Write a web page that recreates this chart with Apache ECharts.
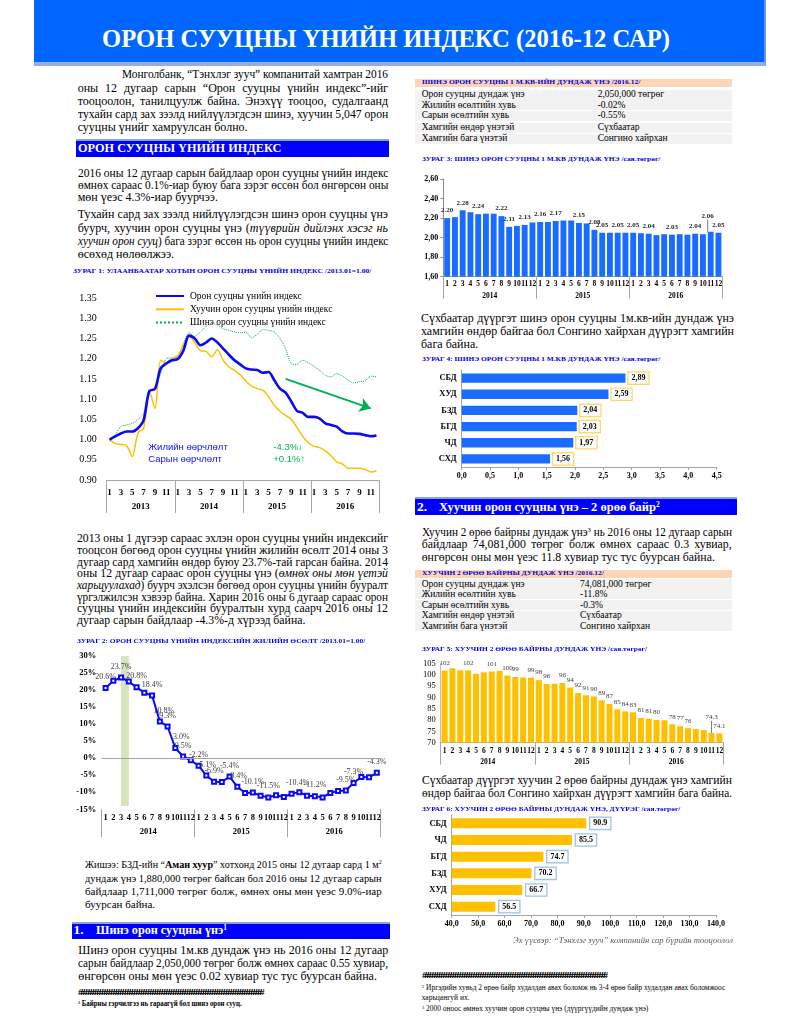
<!DOCTYPE html>
<html><head><meta charset="utf-8">
<script src="https://cdn.jsdelivr.net/npm/echarts@6/dist/echarts.min.js"></script>
<style>
html,body{margin:0;padding:0;background:#fff;}
#page{position:relative;width:800px;height:1035px;overflow:hidden;font-family:"Liberation Serif","Times New Roman",serif;color:#000;}
.ln{position:absolute;white-space:nowrap;transform-origin:0 50%;}
.box{position:absolute;}
.ch{position:absolute;}
sup{font-size:0.6em;line-height:0;vertical-align:0.55em;}
</style></head>
<body><div id="page">
<div class="box" style="left:34px;top:0;width:730px;height:62px;background:#0066FF;border-bottom:4px solid #95AEDC;border-right:2px solid #6F95D8;"></div>
<div class="box" style="left:76px;top:139px;width:313px;height:18px;background:#0000FF;border-top:2px solid #8EA4D2;box-sizing:border-box;"></div>
<div class="box" style="left:72px;top:922px;width:318px;height:16.5px;background:#0000FF;border-top:2px solid #8EA4D2;box-sizing:border-box;"></div>
<div class="box" style="left:415px;top:497px;width:322px;height:18px;background:#0000FF;border-top:2px solid #8EA4D2;box-sizing:border-box;"></div>
<div class="ch" id="c1" style="left:60px;top:280px;width:340px;height:240px;"></div>
<div class="ch" id="c2" style="left:60px;top:645px;width:340px;height:200px;"></div>
<div class="ch" id="c3" style="left:410px;top:170px;width:330px;height:135px;"></div>
<div class="ch" id="c4" style="left:410px;top:365px;width:330px;height:120px;"></div>
<div class="ch" id="c5" style="left:410px;top:655px;width:330px;height:115px;"></div>
<div class="ch" id="c6" style="left:410px;top:812px;width:330px;height:125px;"></div>
</div>
<script>
// ---------- DATA ----------
const monthNums = ['1','2','3','4','5','6','7','8','9','10','11','12'];
const years1 = ['2013','2014','2015','2016'];
const years2 = ['2014','2015','2016'];

// Chart 1: index 2013.01 = 1.00
const c1Index = [1.000,1.008,1.015,1.020,1.020,1.028,1.048,1.120,1.125,1.176,1.188,1.196,
 1.199,1.220,1.257,1.250,1.233,1.240,1.250,1.240,1.225,1.210,1.196,1.186,
 1.176,1.173,1.172,1.165,1.167,1.147,1.126,1.116,1.094,1.071,1.066,1.056,
 1.056,1.052,1.040,1.036,1.032,1.020,1.015,1.015,1.014,1.011,1.008,1.010];
const c1Old = [1.000,0.990,0.988,0.985,0.958,1.016,1.028,1.120,1.077,1.196,1.190,1.200,
 1.208,1.233,1.255,1.240,1.220,1.218,1.205,1.222,1.196,1.180,1.171,1.160,
 1.145,1.132,1.126,1.122,1.106,1.085,1.070,1.060,1.050,1.030,1.008,0.992,
 0.983,0.980,0.972,0.960,0.945,0.940,0.929,0.929,0.929,0.926,0.920,0.923];
const c1New = [1.000,1.012,1.032,1.036,1.040,1.050,1.065,1.118,1.130,1.163,1.200,1.202,
 1.204,1.237,1.264,1.255,1.266,1.280,1.287,1.283,1.274,1.270,1.266,1.264,
 1.266,1.252,1.260,1.272,1.270,1.266,1.250,1.225,1.188,1.186,1.196,1.190,
 1.181,1.171,1.159,1.155,1.163,1.157,1.147,1.140,1.143,1.145,1.157,1.155];
const c1Names = ['Орон сууцны үнийн индекс','Хуучин орон сууцны үнийн индекс','Шинэ орон сууцны үнийн индекс'];

// Chart 2: annual growth %
const c2Vals = [20.6,22.7,23.7,22.5,20.8,19.2,18.4,10.8,9.3,3.0,0.5,-0.6,
 -2.2,-5.1,-6.9,-7.0,-5.4,-8.4,-10.2,-10.1,-11.0,-11.5,-10.9,-11.4,
 -10.4,-10.0,-11.0,-11.2,-11.5,-10.2,-9.6,-9.5,-7.3,-5.5,-5.6,-4.3];
const c2LabelIdx = [0,2,4,6,7,8,9,10,12,13,14,16,17,19,21,24,27,31,32,35];

// Chart 3: new housing price per m2, mln MNT
const c3Vals = [2.20,2.21,2.28,2.26,2.24,2.245,2.245,2.22,2.11,2.12,2.13,2.155,
 2.16,2.16,2.17,2.175,2.175,2.15,2.145,2.08,2.05,2.05,2.05,2.05,
 2.05,2.045,2.04,2.025,2.035,2.03,2.035,2.03,2.04,2.035,2.06,2.05];
const c3LabelIdx = [0,2,4,7,8,10,12,14,17,19,20,22,24,26,29,32,34,35];

// Chart 4: by district
const c4Cats = ['СБД','ХУД','БЗД','БГД','ЧД','СХД'];
const c4Vals = [2.89,2.59,2.04,2.03,1.97,1.56];

// Chart 5: old 2-room apartment, mln MNT
const c5Vals = [101.8,102.8,101.9,101.9,100.4,101.0,101.4,101.6,99.6,99.0,98.8,98.7,
 97.6,95.9,96.0,96.3,94.3,91.9,90.9,90.4,88.7,87.1,84.7,83.8,
 83.4,80.9,80.6,80.0,79.9,78.1,77.3,76.4,76.0,75.6,74.3,74.1];
const c5Labels = ['102',null,null,'102',null,null,'101',null,'100','99',null,'99',
 '98','96',null,'96','94','92','91','90','89','87','85','84',
 '83','81','81','80',null,'78','77','76',null,null,'74.3','74.1'];

// Chart 6: by district
const c6Cats = ['СБД','ЧД','БГД','БЗД','ХУД','СХД'];
const c6Vals = [90.9,85.5,74.7,70.2,66.7,56.5];

// Tables
const t1Rows = [['Орон сууцны дундаж үнэ','2,050,000 төгрөг'],['Жилийн өсөлтийн хувь','-0.02%'],['Сарын өсөлтийн хувь','-0.55%'],['Хамгийн өндөр үнэтэй','Сүхбаатар'],['Хамгийн бага үнэтэй','Сонгино хайрхан']];
const t2Rows = [['Орон сууцны дундаж үнэ','74,081,000 төгрөг'],['Жилийн өсөлтийн хувь','-11.8%'],['Сарын өсөлтийн хувь','-0.3%'],['Хамгийн өндөр үнэтэй','Сүхбаатар'],['Хамгийн бага үнэтэй','Сонгино хайрхан']];

// ---------- TEXT HELPERS ----------
const page = document.getElementById('page');
function addLine(o){
  const d = document.createElement('div');
  d.className = 'ln';
  const lh = o.lh || o.fs*1.1;
  d.style.left = o.x+'px';
  d.style.top = (o.y - lh/2)+'px';
  d.style.height = lh+'px';
  d.style.lineHeight = lh+'px';
  d.style.fontSize = o.fs+'px';
  if(o.bold) d.style.fontWeight='bold';
  if(o.italic) d.style.fontStyle='italic';
  if(o.color) d.style.color=o.color;
  if(o.ls) d.style.letterSpacing=o.ls+'px';
  d.innerHTML = o.html;
  page.appendChild(d);
  const nw = d.getBoundingClientRect().width;
  const mode = o.mode||'left';
  if(mode==='justify'){
    if(nw > o.w){ d.style.transform='scaleX('+(o.w/nw)+')'; }
    else { const n=(d.textContent.match(/ /g)||[]).length; if(n) d.style.wordSpacing=((o.w-nw)/n)+'px'; }
  } else if(mode==='fit'){
    d.style.transform='scaleX('+(o.w/nw)+')';
  } else {
    if(o.w && nw > o.w) d.style.transform='scaleX('+(o.w/nw)+')';
  }
  return d;
}
function para(x,y0,w,lh,fs,lines,opt){
  opt = opt||{};
  lines.forEach((h,i)=>{
    const ind = (i===0 && opt.indent) ? opt.indent : 0;
    addLine({x:x+ind, y:y0+i*lh, w:w-ind, lh:lh, fs:fs, html:h, mode:(i===lines.length-1)?'left':'justify'});
  });
}

// Header title
addLine({x:101.7,y:39,w:568,fs:26,bold:true,color:'#fff',html:'ОРОН СУУЦНЫ ҮНИЙН ИНДЕКС (2016-12 САР)',mode:'fit'});

// Left column
para(77.7,75,310.3,13.2,12,[
 'Монголбанк, “Тэнхлэг зууч” компанитай хамтран 2016',
 'оны 12 дугаар сарын “Орон сууцны үнийн индекс”-ийг',
 'тооцоолон, танилцуулж байна. Энэхүү тооцоо, судалгаанд',
 'тухайн сард зах зээлд нийлүүлэгдсэн шинэ, хуучин 5,047 орон',
 'сууцны үнийг хамруулсан болно.'],{indent:44.3});
addLine({x:78.3,y:148.5,w:203.4,fs:13.5,bold:true,color:'#fff',html:'ОРОН СУУЦНЫ ҮНИЙН ИНДЕКС',mode:'fit'});
para(77.7,173,310.3,12.2,12,[
 '2016 оны 12 дугаар сарын байдлаар орон сууцны үнийн индекс',
 'өмнөх сараас 0.1%-иар буюу бага зэрэг өссөн бол өнгөрсөн оны',
 'мөн үеэс 4.3%-иар буурчээ.']);
para(77.7,215,310.3,13.3,12,[
 'Тухайн сард зах зээлд нийлүүлэгдсэн шинэ орон сууцны үнэ',
 'буурч, хуучин орон сууцны үнэ (<i>түүврийн дийлэнх хэсэг нь</i>',
 '<i>хуучин орон сууц</i>) бага зэрэг өссөн нь орон сууцны үнийн индекс',
 'өсөхөд нөлөөлжээ.']);
const TCOL = '#0000DD';
addLine({x:73.3,y:272,w:298.4,fs:7,bold:true,color:TCOL,html:'ЗУРАГ 1: УЛААНБААТАР ХОТЫН ОРОН СУУЦНЫ ҮНИЙН ИНДЕКС /2013.01=1.00/',mode:'fit'});
para(77,539,311,11.7,11.8,[
 '2013 оны 1 дүгээр сараас эхлэн орон сууцны үнийн индексийг',
 'тооцсон бөгөөд орон сууцны үнийн жилийн өсөлт 2014 оны 3',
 'дугаар сард хамгийн өндөр буюу 23.7%-тай гарсан байна. 2014',
 'оны 12 дугаар сараас орон сууцны үнэ (<i>өмнөх оны мөн үетэй</i>',
 '<i>харьцуулахад</i>) буурч эхэлсэн бөгөөд орон сууцны үнийн бууралт',
 'үргэлжилсэн хэвээр байна. Харин 2016 оны 6 дугаар сараас орон',
 'сууцны үнийн индексийн бууралтын хурд саарч 2016 оны 12',
 'дугаар сарын байдлаар -4.3%-д хүрээд байна.']);
addLine({x:76.7,y:641.7,w:288.3,fs:7,bold:true,color:TCOL,html:'ЗУРАГ 2: ОРОН СУУЦНЫ ҮНИЙН ИНДЕКСИЙН ЖИЛИЙН ӨСӨЛТ /2013.01=1.00/',mode:'fit'});
para(85,865,296.7,13.3,11,[
 'Жишээ: БЗД-ийн “<b>Аман хуур</b>” хотхонд 2015 оны 12 дугаар сард 1 м<sup>2</sup>',
 'дундаж үнэ 1,880,000 төгрөг байсан бол 2016 оны 12 дугаар сарын',
 'байдлаар 1,711,000 төгрөг болж, өмнөх оны мөн үеэс 9.0%-иар',
 'буурсан байна.']);
addLine({x:73.5,y:930.5,fs:13.5,bold:true,color:'#fff',html:'1.'});
addLine({x:95.5,y:930.5,w:131,fs:13.5,bold:true,color:'#fff',html:'Шинэ орон сууцны үнэ<sup>1</sup>',mode:'fit'});
para(78.3,950,310,13,12,[
 'Шинэ орон сууцны 1м.кв дундаж үнэ нь 2016 оны 12 дугаар',
 'сарын байдлаар 2,050,000 төгрөг болж өмнөх сараас 0.55 хувиар,',
 'өнгөрсөн оны мөн үеэс 0.02 хувиар тус тус буурсан байна.']);
addLine({x:78,y:993.3,w:183.7,fs:8,bold:true,ls:-2.2,html:'#'.repeat(80),mode:'fit'});
addLine({x:78,y:1004,w:163.7,fs:7.5,bold:true,html:'<sup>1</sup> Байрны гэрчилгээ нь гараагүй бол шинэ орон сууц.',mode:'fit'});

// Right column
function table(y0Head, rowTops, col2, head, headW, rows){
  const h = document.createElement('div'); h.className='box';
  h.style.cssText='left:415px;top:'+(y0Head-4)+'px;width:317px;height:8px;background:#FBD5B5;';
  page.appendChild(h);
  addLine({x:421.7,y:y0Head,w:headW,fs:7,bold:true,color:TCOL,html:head,mode:'fit'});
  rows.forEach((r,i)=>{
    const b=document.createElement('div'); b.className='box';
    b.style.cssText='left:415px;top:'+rowTops[i]+'px;width:317px;height:10px;background:#F2F2F2;';
    page.appendChild(b);
    addLine({x:421.7,y:rowTops[i]+5,fs:9.5,html:r[0]});
    addLine({x:col2,y:rowTops[i]+5,fs:9.5,html:r[1]});
  });
}
table(83.3,[89.5,100,110.7,122.7,133.7],597.7,'ШИНЭ ОРОН СУУЦНЫ 1 М.КВ-ИЙН ДУНДАЖ ҮНЭ /2016.12/',218.3,t1Rows);
addLine({x:421.7,y:160,w:238.3,fs:7,bold:true,color:TCOL,html:'ЗУРАГ 3: ШИНЭ ОРОН СУУЦНЫ 1 М.КВ ДУНДАЖ ҮНЭ /сая.төгрөг/',mode:'fit'});
para(421,318,313,13,12,[
 'Сүхбаатар дүүргэт шинэ орон сууцны 1м.кв-ийн дундаж үнэ',
 'хамгийн өндөр байгаа бол Сонгино хайрхан дүүрэгт хамгийн',
 'бага байна.']);
addLine({x:421.7,y:360,w:238.3,fs:7,bold:true,color:TCOL,html:'ЗУРАГ 4: ШИНЭ ОРОН СУУЦНЫ 1 М.КВ ДУНДАЖ ҮНЭ /сая.төгрөг/',mode:'fit'});
addLine({x:417,y:507,fs:13.5,bold:true,color:'#fff',html:'2.'});
addLine({x:439.3,y:507,w:220.7,fs:13.5,bold:true,color:'#fff',html:'Хуучин орон сууцны үнэ – 2 өрөө байр<sup>2</sup>',mode:'fit'});
para(421.7,532,310,12.5,11.8,[
 'Хуучин 2 өрөө байрны дундаж үнэ<sup>3</sup> нь 2016 оны 12 дугаар сарын',
 'байдлаар 74,081,000 төгрөг болж өмнөх сараас 0.3 хувиар,',
 'өнгөрсөн оны мөн үеэс 11.8 хувиар тус тус буурсан байна.']);
table(573.7,[579,589.3,600,610.7,621],580,'ХУУЧИН 2 ӨРӨӨ БАЙРНЫ ДУНДАЖ ҮНЭ /2016.12/',181.7,t2Rows);
addLine({x:421.7,y:650,w:225,fs:7,bold:true,color:TCOL,html:'ЗУРАГ 5: ХУУЧИН 2 ӨРӨӨ БАЙРНЫ ДУНДАЖ ҮНЭ /сая.төгрөг/',mode:'fit'});
para(421.7,780,310,13,12.5,[
 'Сүхбаатар дүүргэт хуучин 2 өрөө байрны дундаж үнэ хамгийн',
 'өндөр байгаа бол Сонгино хайрхан дүүрэгт хамгийн бага байна.']);
addLine({x:421.7,y:810,w:258.3,fs:7,bold:true,color:TCOL,html:'ЗУРАГ 6: ХУУЧИН 2 ӨРӨӨ БАЙРНЫ ДУНДАЖ ҮНЭ, ДҮҮРЭГ /сая.төгрөг/',mode:'fit'});
addLine({x:513,y:941,w:220,fs:9,italic:true,color:'#595959',html:'Эх үүсвэр: “Тэнхлэг зууч” компанийн сар бүрийн тооцоолол',mode:'fit'});
addLine({x:421.7,y:976.7,w:183.3,fs:8,bold:true,ls:-2.2,html:'#'.repeat(80),mode:'fit'});
addLine({x:421.7,y:988,w:303.3,fs:7.5,html:'<sup>2</sup> Иргэдийн хувьд 2 өрөө байр худалдан авах боломж нь 3-4 өрөө байр худалдан авах боломжоос',mode:'fit'});
addLine({x:421.7,y:998.5,fs:7.5,html:'харьцангуй их.'});
addLine({x:421.7,y:1008.7,w:226.3,fs:7.5,html:'<sup>3</sup> 2000 оноос өмнөх хуучин орон сууцны үнэ (дүүргүүдийн дундаж үнэ)',mode:'fit'});

// ---------- CHARTS ----------
const SERIF = '"Liberation Serif", "Times New Roman", serif';
const SANS = '"Liberation Sans", Arial, sans-serif';
const monthOf = v => v.split('-')[1];
const cats = ys => ys.flatMap(y => monthNums.map(m => y+'-'+m));
const GRID = {containLabel:false, outerBoundsMode:'none'};
const txt = (fs, bold) => ({fontFamily:SERIF, fontSize:fs, fontWeight:bold?'bold':'normal', color:'#000'});
function monthAxis(data, o){
  return {type:'category', data:data, position:'bottom', boundaryGap:true,
    axisLine:{show:o.line!==false, lineStyle:{color:'#A6A6A6', width:1}}, axisTick:{show:false}, splitLine:{show:false},
    axisLabel:Object.assign({interval:o.interval||0, formatter:monthOf, margin:o.margin, hideOverlap:false}, txt(o.fs, true))};
}
function yearAxis(data, o){
  return {type:'category', data:data, position:'bottom', boundaryGap:true,
    axisLine:{show:false}, splitLine:{show:false},
    axisTick:{show:true, interval:0, length:o.len, lineStyle:{color:'#A6A6A6', width:1}},
    axisLabel:Object.assign({interval:0, margin:o.margin, hideOverlap:false}, txt(o.fs, true))};
}

// Chart 1
const ch1 = echarts.init(document.getElementById('c1'));
ch1.setOption({
  animation:false,
  grid:Object.assign({left:46.7, top:18, width:272.6, height:182}, GRID),
  legend:{left:90, top:6, orient:'vertical', itemWidth:28, itemHeight:8, itemGap:3.3, data:c1Names,
    itemStyle:{color:'rgba(0,0,0,0)', borderColor:'rgba(0,0,0,0)', borderWidth:0, opacity:0},
    textStyle:Object.assign(txt(9.5,false),{padding:[0,0,0,1]}), selectedMode:false},
  xAxis:[monthAxis(cats(years1),{interval:1, margin:8, fs:9}), yearAxis(years1,{len:33, margin:22, fs:9})],
  yAxis:{type:'value', min:0.9, max:1.35, interval:0.05, splitLine:{show:false}, axisLine:{show:false}, axisTick:{show:false},
    axisLabel:Object.assign({formatter:v=>v.toFixed(2), margin:10}, txt(10,false))},
  graphic:[
    {type:'text', left:88.3, top:162.5, style:{text:'Жилийн өөрчлөлт', fill:'#1010F0', fontFamily:SANS, fontSize:9.5}},
    {type:'text', left:88.3, top:174, style:{text:'Сарын өөрчлөлт', fill:'#1010F0', fontFamily:SANS, fontSize:9.5}},
    {type:'text', left:213.3, top:162.5, style:{text:'-4.3%↓', fill:'#00B050', fontFamily:SANS, fontSize:9.5}},
    {type:'text', left:213.3, top:174, style:{text:'+0.1%↑', fill:'#00B050', fontFamily:SANS, fontSize:9.5}}
  ],
  series:[
    {name:c1Names[0], type:'line', data:c1Index, symbol:'none', smooth:0.3, z:4,
      lineStyle:{color:'#0A0AF5', width:2.6}, itemStyle:{color:'#0A0AF5'}},
    {name:c1Names[1], type:'line', data:c1Old, symbol:'none', smooth:0.3, z:3,
      lineStyle:{color:'#FFC000', width:1.5}, itemStyle:{color:'#FFC000'}},
    {name:c1Names[2], type:'line', data:c1New, symbol:'none', smooth:0.3, z:2,
      lineStyle:{color:'#00B050', width:1, type:'dotted'}, itemStyle:{color:'#00B050'},
      markLine:{silent:true, symbol:['none','arrow'], symbolSize:11, label:{show:false},
        itemStyle:{color:'#00B050'},
        lineStyle:{color:'#00B050', width:2, type:'solid'},
        data:[[{coord:[31,1.150]},{coord:[46,1.077]}]]}}
  ]
});

// Chart 2
const c2Shift = {7:[4,0], 9:[6,0], 24:[6,0]};
const ch2 = echarts.init(document.getElementById('c2'));
ch2.setOption({
  animation:false,
  grid:Object.assign({left:41.7, top:11, width:279, height:153.3}, GRID),
  xAxis:[monthAxis(cats(years2),{line:false, margin:4, fs:8.5}), yearAxis(years2,{len:28, margin:18, fs:8.5})],
  yAxis:{type:'value', min:-15, max:30, interval:5, splitLine:{show:false}, axisLine:{show:false}, axisTick:{show:false},
    axisLabel:Object.assign({formatter:'{value}%', margin:5.5}, txt(8.5,true))},
  series:[{type:'line', symbol:'emptyRect', symbolSize:4, z:3,
    data:c2Vals.map((v,i)=>({value:v, label:{show:c2LabelIdx.includes(i), offset:c2Shift[i]||[0,0]}})),
    lineStyle:{color:'#0A0AF5', width:2}, itemStyle:{color:'#0A0AF5', borderWidth:1},
    label:Object.assign({show:false, position:'top', distance:4, formatter:p=>p.value.toFixed(1)+'%'}, txt(8,false), {color:'#404040'}),
    markLine:{silent:true, symbol:'none', label:{show:false}, lineStyle:{color:'#A6A6A6', width:1, type:'solid'}, data:[{yAxis:0}]},
    markArea:{silent:true, itemStyle:{color:'#D7E4BD'}, data:[[{xAxis:2, yAxis:30},{xAxis:3, yAxis:-14}]]}
  }]
});

// Chart 3
const ch3 = echarts.init(document.getElementById('c3'));
ch3.setOption({
  animation:false,
  grid:Object.assign({left:33.3, top:9, width:279, height:97.7}, GRID),
  xAxis:[monthAxis(cats(years2),{margin:3, fs:7.5}), yearAxis(years2,{len:22, margin:15, fs:7.5})],
  yAxis:{type:'value', min:1.6, max:2.6, interval:0.2, splitLine:{show:false},
    axisLine:{show:true, lineStyle:{color:'#8C8C8C'}}, axisTick:{show:true, length:3, lineStyle:{color:'#8C8C8C'}},
    axisLabel:Object.assign({formatter:v=>v.toFixed(2).replace('.',','), margin:5}, txt(8,true))},
  series:[{type:'bar', barCategoryGap:'24%',
    data:c3Vals.map((v,i)=>({value:v, label:{show:c3LabelIdx.includes(i)}, labelLine:{show:i===34, lineStyle:{color:'#595959', width:0.8}}})),
    itemStyle:{color:'#1A6BFF'},
    label:Object.assign({show:false, position:'top', distance:4, formatter:p=>p.value.toFixed(2)}, txt(7,true), {color:'#262626'}),
    labelLayout:p=>p.dataIndex===34?{dy:-8, dx:-3}:{}
  }]
});

// Chart 4
const ch4 = echarts.init(document.getElementById('c4'));
ch4.setOption({
  animation:false,
  grid:Object.assign({left:51.7, top:5, width:255, height:97}, GRID),
  xAxis:{type:'value', min:0, max:4.5, interval:0.5, splitLine:{show:false},
    axisLine:{show:true, lineStyle:{color:'#A6A6A6'}}, axisTick:{show:true, length:3, lineStyle:{color:'#A6A6A6'}},
    axisLabel:Object.assign({formatter:v=>v.toFixed(1).replace('.',','), margin:5}, txt(8,true))},
  yAxis:{type:'category', inverse:true, data:c4Cats, axisLine:{show:true, lineStyle:{color:'#A6A6A6'}}, axisTick:{show:false},
    axisLabel:Object.assign({margin:5}, txt(8.5,true))},
  series:[{type:'bar', data:c4Vals, barWidth:9.3, itemStyle:{color:'#1A6BFF'},
    label:Object.assign({show:true, position:'right', distance:3, formatter:p=>p.value.toFixed(2).replace('.',','),
      backgroundColor:'#fff', borderColor:'#FFD966', borderWidth:1.3, padding:[2,3,1,3]}, txt(8,true))}]
});

// Chart 5
const ch5 = echarts.init(document.getElementById('c5'));
ch5.setOption({
  animation:false,
  grid:Object.assign({left:30.7, top:8.3, width:282.6, height:79.4}, GRID),
  xAxis:[monthAxis(cats(years2),{margin:4, fs:7.5}), yearAxis(years2,{len:22, margin:15, fs:7.5})],
  yAxis:{type:'value', min:70, max:105, interval:5, splitLine:{show:false},
    axisLine:{show:true, lineStyle:{color:'#BFBFBF'}}, axisTick:{show:false},
    axisLabel:Object.assign({margin:5}, txt(8.5,false))},
  series:[{type:'bar', barCategoryGap:'23%',
    data:c5Vals.map((v,i)=>({value:v, label:{show:c5Labels[i]!==null}, labelLine:{show:i===34, lineStyle:{color:'#595959', width:0.8}}})),
    itemStyle:{color:'#FFC000'},
    label:Object.assign({show:false, position:'top', distance:4, formatter:p=>c5Labels[p.dataIndex]||''}, txt(7,false), {color:'#404040'}),
    labelLayout:p=>p.dataIndex===34?{dy:-8}:{}
  }]
});

// Chart 6
const ch6 = echarts.init(document.getElementById('c6'));
ch6.setOption({
  animation:false,
  grid:Object.assign({left:41.7, top:3, width:264.3, height:100}, GRID),
  xAxis:{type:'value', min:40, max:140, interval:10, splitLine:{show:false},
    axisLine:{show:true, lineStyle:{color:'#A6A6A6'}}, axisTick:{show:true, length:3, lineStyle:{color:'#A6A6A6'}},
    axisLabel:Object.assign({formatter:v=>v.toFixed(1).replace('.',','), margin:5}, txt(8,true))},
  yAxis:{type:'category', inverse:true, data:c6Cats, axisLine:{show:true, lineStyle:{color:'#A6A6A6'}}, axisTick:{show:false},
    axisLabel:Object.assign({margin:5}, txt(8.5,true))},
  series:[{type:'bar', data:c6Vals, barWidth:10, itemStyle:{color:'#FFC000'},
    label:Object.assign({show:true, position:'right', distance:4, formatter:p=>p.value.toFixed(1),
      backgroundColor:'#fff', borderColor:'#9DC3E6', borderWidth:1.3, padding:[2,3,1,3]}, txt(8,true))}]
});
</script>
</body></html>
